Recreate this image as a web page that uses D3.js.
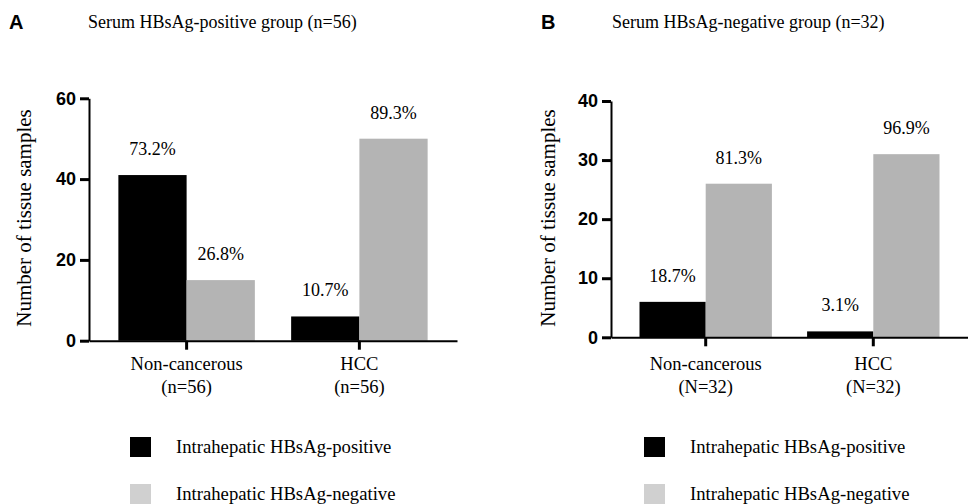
<!DOCTYPE html>
<html>
<head>
<meta charset="utf-8">
<script src="https://cdn.jsdelivr.net/npm/d3@7"></script>
<style>
  body { margin: 0; background: #fff; }
</style>
</head>
<body>
<svg id="chart"></svg>
<script>
// data
var categories = ["Non-cancerous", "HCC"];
var seriesNames = ["Intrahepatic HBsAg-positive", "Intrahepatic HBsAg-negative"];

var titleA = "Serum HBsAg-positive group (n=56)";
var sampleLabelsA = ["(n=56)", "(n=56)"];
var positiveA = [41, 6];
var negativeA = [15, 50];
var pctPositiveA = ["73.2%", "10.7%"];
var pctNegativeA = ["26.8%", "89.3%"];
var ticksA = [0, 20, 40, 60];

var titleB = "Serum HBsAg-negative group (n=32)";
var sampleLabelsB = ["(N=32)", "(N=32)"];
var positiveB = [6, 1];
var negativeB = [26, 31];
var pctPositiveB = ["18.7%", "3.1%"];
var pctNegativeB = ["81.3%", "96.9%"];
var ticksB = [0, 10, 20, 30, 40];

var colors = ["#000000", "#b4b4b4"];
var legendColors = ["#000000", "#d0d0d0"];

var SERIF = "'Liberation Serif', 'Times New Roman', Times, serif";
var SANS = "'Liberation Sans', Arial, Helvetica, sans-serif";

var width = 968;
var height = 504;

var svg = d3.select("svg#chart")
    .attr("width", width)
    .attr("height", height);

function drawPanel(p) {
    var g = svg.append("g");

    // panel letter + heading
    g.append("text")
        .attr("x", p.letterX)
        .attr("y", 29)
        .style("font-family", SANS)
        .style("font-size", "20px")
        .style("font-weight", "bold")
        .text(p.letter);

    g.append("text")
        .attr("x", p.titleX)
        .attr("y", 28)
        .style("font-family", SERIF)
        .style("font-size", "18px")
        .text(p.title);

    var x = d3.scaleBand()
        .domain(categories)
        .range([p.left, p.right])
        .paddingInner(0.21)
        .paddingOuter(0.17);

    var xs = d3.scaleBand()
        .domain([0, 1])
        .range([0, x.bandwidth()]);

    var y = d3.scaleLinear()
        .domain([0, p.ticks[p.ticks.length - 1]])
        .range([p.bottom, p.top]);

    var rows = categories.map(function(c, i) {
        return { cat: c, vals: [p.pos[i], p.neg[i]], pct: [p.pctPos[i], p.pctNeg[i]] };
    });

    var grp = g.selectAll(".grp")
        .data(rows)
        .enter().append("g")
        .attr("transform", function(d) { return "translate(" + x(d.cat) + ",0)"; });

    grp.selectAll("rect")
        .data(function(d) { return d.vals; })
        .enter().append("rect")
        .attr("x", function(d, i) { return xs(i); })
        .attr("width", xs.bandwidth())
        .attr("y", function(d) { return y(d); })
        .attr("height", function(d) { return y(0) - y(d); })
        .attr("fill", function(d, i) { return colors[i]; });

    grp.selectAll("text.pct")
        .data(function(d) { return d.vals.map(function(v, i) { return { v: v, t: d.pct[i] }; }); })
        .enter().append("text")
        .attr("class", "pct")
        .attr("text-anchor", "middle")
        .attr("x", function(d, i) { return xs(i) + xs.bandwidth() / 2; })
        .attr("y", function(d) { return y(d.v) - 20; })
        .style("font-family", SERIF)
        .style("font-size", "18px")
        .text(function(d) { return d.t; });

    // y axis
    var yAxis = g.append("g")
        .attr("transform", "translate(" + p.left + ",0)")
        .call(d3.axisLeft(y).tickValues(p.ticks).tickSize(9).tickSizeOuter(0).tickPadding(4));
    yAxis.select(".domain").attr("stroke", "#000").attr("stroke-width", 2);
    yAxis.selectAll(".tick line").attr("stroke", "#000").attr("stroke-width", 3);
    yAxis.selectAll(".tick text")
        .style("font-family", SANS)
        .style("font-size", "18px")
        .style("font-weight", "bold")
        .attr("fill", "#000");

    // x axis
    var xAxis = g.append("g")
        .attr("transform", "translate(0," + p.bottom + ")")
        .call(d3.axisBottom(x).tickSize(9).tickSizeOuter(0).tickFormat(""));
    xAxis.select(".domain").attr("stroke", "#000").attr("stroke-width", 2);
    xAxis.selectAll(".tick line").attr("stroke", "#000").attr("stroke-width", 3);

    var catLabel = g.selectAll(".cat")
        .data(rows)
        .enter().append("text")
        .attr("class", "cat")
        .attr("text-anchor", "middle")
        .style("font-family", SERIF)
        .style("font-size", "18.5px");
    catLabel.append("tspan")
        .attr("x", function(d) { return x(d.cat) + x.bandwidth() / 2; })
        .attr("y", 370)
        .text(function(d) { return d.cat; });
    catLabel.append("tspan")
        .attr("x", function(d) { return x(d.cat) + x.bandwidth() / 2; })
        .attr("y", 393)
        .text(function(d, i) { return p.samples[i]; });

    // y label
    g.append("text")
        .attr("text-anchor", "middle")
        .attr("transform", "translate(" + p.ylabelX + "," + 218 + ") rotate(-90)")
        .style("font-family", SERIF)
        .style("font-size", "21px")
        .text("Number of tissue samples");

    // legend
    var leg = g.selectAll(".leg")
        .data(seriesNames)
        .enter().append("g")
        .attr("transform", function(d, i) { return "translate(" + p.legendX + "," + (437 + i * 47) + ")"; });
    leg.append("rect")
        .attr("width", 21)
        .attr("height", 20)
        .attr("fill", function(d, i) { return legendColors[i]; });
    leg.append("text")
        .attr("x", 46)
        .attr("y", 16)
        .style("font-family", SERIF)
        .style("font-size", "18.7px")
        .text(function(d) { return d; });
}

drawPanel({
    letter: "A", letterX: 9, title: titleA, titleX: 88,
    left: 89, right: 457, top: 98.3, bottom: 340.7,
    ticks: ticksA, pos: positiveA, neg: negativeA,
    pctPos: pctPositiveA, pctNeg: pctNegativeA, samples: sampleLabelsA,
    ylabelX: 31, legendX: 130
});

drawPanel({
    letter: "B", letterX: 541, title: titleB, titleX: 612,
    left: 611, right: 968, top: 101, bottom: 337.3,
    ticks: ticksB, pos: positiveB, neg: negativeB,
    pctPos: pctPositiveB, pctNeg: pctNegativeB, samples: sampleLabelsB,
    ylabelX: 555, legendX: 644
});
</script>
</body>
</html>
